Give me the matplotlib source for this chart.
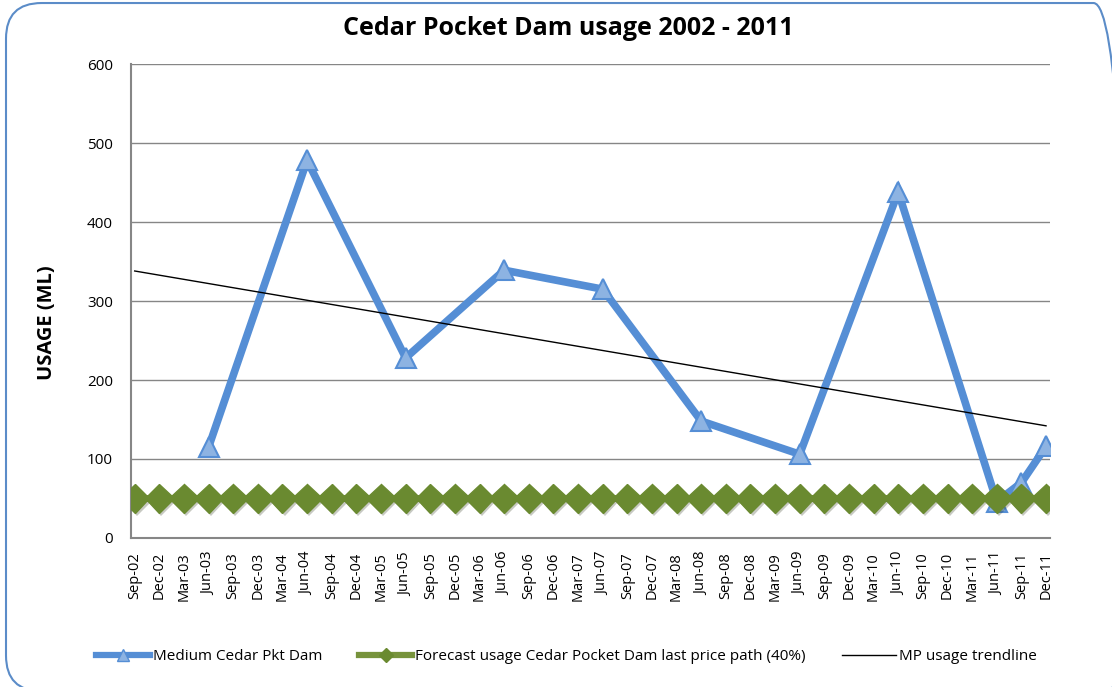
import numpy as np
import matplotlib
matplotlib.use("Agg")
import matplotlib.pyplot as plt
from matplotlib.lines import Line2D
from matplotlib.patches import FancyBboxPatch
import matplotlib.patheffects as pe

plt.rcParams['font.family'] = ['Open Sans', 'DejaVu Sans']

# ---- data ----
categories = []
for yr in range(2, 12):
    for m in ["Mar", "Jun", "Sep", "Dec"]:
        categories.append(f"{m}-{yr:02d}")
categories = categories[2:]  # Sep-02 .. Dec-11

usage_labels = ["Jun-03", "Jun-04", "Jun-05", "Jun-06", "Jun-07", "Jun-08",
                "Jun-09", "Jun-10", "Jun-11", "Sep-11", "Dec-11"]
usage_values = [115, 478, 228, 339, 315, 148, 106, 438, 46, 70, 116]

forecast_value = 50
forecast_values = [forecast_value] * len(categories)

trend_labels = ["Sep-02", "Dec-11"]
trend_values = [338, 142]

title = "Cedar Pocket Dam usage 2002 - 2011"
ylabel = "USAGE (ML)"
series_names = ["Medium Cedar Pkt Dam",
                "Forecast usage Cedar Pocket Dam last price path (40%)",
                "MP usage trendline"]

# ---- figure ----
fig = plt.figure(figsize=(11.12, 6.87), dpi=100)
border = FancyBboxPatch((0.0054, -0.006), 1.01, 1.0016,
                        boxstyle="round,pad=0,rounding_size=0.032",
                        transform=fig.transFigure, fill=False,
                        edgecolor="#5B8CC8", linewidth=1.5,
                        mutation_aspect=1112/687)
fig.patches.append(border)

ax = fig.add_axes([0.1178, 0.2169, 0.8262, 0.6899])
idx = {c: i for i, c in enumerate(categories)}
x_all = np.arange(len(categories))

ux = [idx[c] for c in usage_labels]
ax.plot(ux, usage_values, color="#558ED5", linewidth=5.5, marker="^",
        markersize=15, markerfacecolor="#8DB3E2", markeredgecolor="#558ED5",
        markeredgewidth=1.5, zorder=3, solid_joinstyle="miter")

ax.plot(x_all, forecast_values, color="#77933C", linewidth=5, marker="D",
        markersize=15, markerfacecolor="#6A8A30", markeredgecolor="#6A8A30",
        zorder=4,
        path_effects=[pe.SimplePatchShadow(offset=(1.5, -2), alpha=0.25), pe.Normal()])

tx = [idx[c] for c in trend_labels]
ax.plot(tx, trend_values, color="black", linewidth=1, zorder=5)

ax.set_xlim(-0.15, len(categories) - 0.85)
ax.set_ylim(0, 600)
ax.set_yticks(np.arange(0, 601, 100))
ax.yaxis.grid(True, color="#868686", linewidth=1)
ax.set_axisbelow(True)
ax.set_xticks(x_all)
ax.set_xticklabels(categories, rotation=90, fontsize=10.5)
ax.tick_params(axis="x", length=0, pad=10)
ax.tick_params(axis="y", length=0, pad=13, labelsize=11)
for s in ["top", "right"]:
    ax.spines[s].set_visible(False)
for s in ["left", "bottom"]:
    ax.spines[s].set_color("#868686")
    ax.spines[s].set_linewidth(1.5)

fig.text(47 / 1112, 1 - 323 / 687, ylabel, rotation=90, ha="center", va="center",
         fontsize=14.5, fontweight="bold")
fig.text(0.511, 0.959, title, ha="center", va="center", fontsize=18, fontweight="bold")

handles = [
    Line2D([], [], color="#558ED5", linewidth=4.5, marker="^", markersize=8,
           markerfacecolor="#8DB3E2", markeredgecolor="#558ED5"),
    Line2D([], [], color="#77933C", linewidth=4.5, marker="D", markersize=7,
           markerfacecolor="#6A8A30", markeredgecolor="#6A8A30"),
    Line2D([], [], color="black", linewidth=1),
]
fig.legend(handles, series_names, loc="center", bbox_to_anchor=(0.5095, 0.044),
           ncol=3, frameon=False, fontsize=11, handlelength=3.5,
           handletextpad=0.2, columnspacing=2.4)

fig.savefig("out.png", dpi=100)
